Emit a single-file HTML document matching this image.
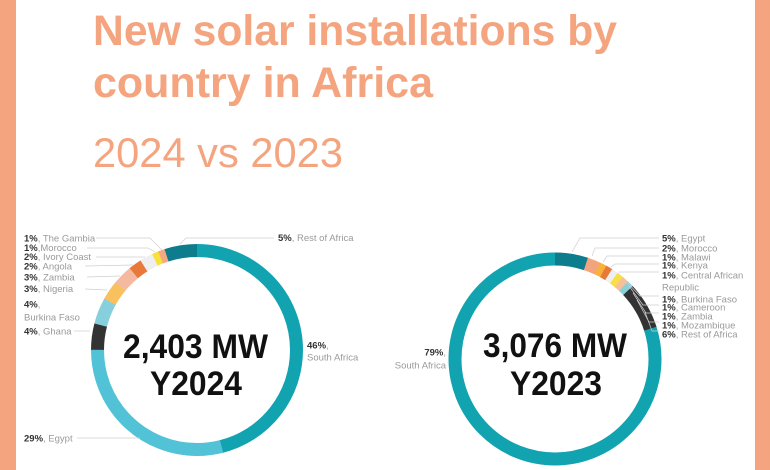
<!DOCTYPE html>
<html>
<head>
<meta charset="utf-8">
<style>
  html,body{margin:0;padding:0;background:#fff;}
  svg{display:block;}
  .t{font-family:"Liberation Sans",Arial,sans-serif;}
  .lbl{font-family:"Liberation Sans",Arial,sans-serif;font-size:9.5px;fill:#9a9a9a;}
  .pc{fill:#333;font-weight:bold;}
  .ld{stroke:#cfcfcf;stroke-width:0.7;fill:none;}
</style>
</head>
<body>
<svg width="770" height="470" viewBox="0 0 770 470" xmlns="http://www.w3.org/2000/svg">
  <rect x="0" y="0" width="770" height="470" fill="#fff"/>
  <!-- side bars -->
  <rect x="0" y="0" width="16" height="470" fill="#f4a47f"/>
  <rect x="755" y="0" width="15" height="470" fill="#f4a47f"/>

  <!-- title -->
  <text class="t" x="93" y="45" font-size="43" font-weight="bold" fill="#f4a57f" textLength="524" lengthAdjust="spacingAndGlyphs">New solar installations by</text>
  <text class="t" x="93" y="97" font-size="43" font-weight="bold" fill="#f4a57f" textLength="340" lengthAdjust="spacingAndGlyphs">country in Africa</text>
  <text class="t" x="93" y="167" font-size="42" fill="#f4a57f" textLength="250" lengthAdjust="spacingAndGlyphs">2024 vs 2023</text>

  <!-- LEFT DONUT (2024) center 197,350 r 99.5 -->
  <g transform="rotate(-90 197 350)" fill="none" stroke-width="13">
    <circle cx="197" cy="350" r="99.5" stroke="#12a3b1" stroke-dasharray="288.1 625.18" stroke-dashoffset="0"/>
    <circle cx="197" cy="350" r="99.5" stroke="#52c3d6" stroke-dasharray="181.8 625.18" stroke-dashoffset="-287.58"/>
    <circle cx="197" cy="350" r="99.5" stroke="#333333" stroke-dasharray="25.5 625.18" stroke-dashoffset="-468.89"/>
    <circle cx="197" cy="350" r="99.5" stroke="#86cfdc" stroke-dasharray="25.5 625.18" stroke-dashoffset="-493.89"/>
    <circle cx="197" cy="350" r="99.5" stroke="#f8c15e" stroke-dasharray="19.2 625.18" stroke-dashoffset="-518.90"/>
    <circle cx="197" cy="350" r="99.5" stroke="#f5b9a2" stroke-dasharray="19.2 625.18" stroke-dashoffset="-537.65"/>
    <circle cx="197" cy="350" r="99.5" stroke="#e8793a" stroke-dasharray="13 625.18" stroke-dashoffset="-556.41"/>
    <circle cx="197" cy="350" r="99.5" stroke="#efefef" stroke-dasharray="13 625.18" stroke-dashoffset="-568.91"/>
    <circle cx="197" cy="350" r="99.5" stroke="#f7e23c" stroke-dasharray="6.7 625.18" stroke-dashoffset="-581.42"/>
    <circle cx="197" cy="350" r="99.5" stroke="#f5a882" stroke-dasharray="6.7 625.18" stroke-dashoffset="-587.67"/>
    <circle cx="197" cy="350" r="99.5" stroke="#0d7c8c" stroke-dasharray="31.3 625.18" stroke-dashoffset="-593.92"/>
  </g>

  <text class="t" x="195.5" y="358" font-size="34" font-weight="bold" fill="#111" text-anchor="middle" textLength="145" lengthAdjust="spacingAndGlyphs">2,403 MW</text>
  <text class="t" x="196" y="395" font-size="34" font-weight="bold" fill="#111" text-anchor="middle" textLength="92" lengthAdjust="spacingAndGlyphs">Y2024</text>

  <!-- left leader lines -->
  <polyline class="ld" points="96,238 150,238 162,250"/>
  <polyline class="ld" points="87,248 148,248 155,252"/>
  <polyline class="ld" points="96,257 145,257"/>
  <polyline class="ld" points="85,266 133,265"/>
  <polyline class="ld" points="87,277 120,276"/>
  <polyline class="ld" points="85,289 107,290"/>
  <polyline class="ld" points="74,331 90,331"/>
  <polyline class="ld" points="77,438 140,438"/>
  <polyline class="ld" points="180,244 186,238 274,238"/>

  <!-- left labels -->
  <text class="lbl" x="24" y="241.5"><tspan class="pc">1%</tspan>, The Gambia</text>
  <text class="lbl" x="24" y="251"><tspan class="pc">1%</tspan>,Morocco</text>
  <text class="lbl" x="24" y="260"><tspan class="pc">2%</tspan>, Ivory Coast</text>
  <text class="lbl" x="24" y="269.5"><tspan class="pc">2%</tspan>, Angola</text>
  <text class="lbl" x="24" y="280.5"><tspan class="pc">3%</tspan>, Zambia</text>
  <text class="lbl" x="24" y="292"><tspan class="pc">3%</tspan>, Nigeria</text>
  <text class="lbl" x="24" y="307.5"><tspan class="pc">4%</tspan>,</text>
  <text class="lbl" x="24" y="320.5">Burkina Faso</text>
  <text class="lbl" x="24" y="334.5"><tspan class="pc">4%</tspan>, Ghana</text>
  <text class="lbl" x="24" y="441.5"><tspan class="pc">29%</tspan>, Egypt</text>
  <text class="lbl" x="278" y="241"><tspan class="pc">5%</tspan>, Rest of Africa</text>
  <text class="lbl" x="307" y="348.5"><tspan class="pc">46%</tspan>,</text>
  <text class="lbl" x="307" y="360.5">South Africa</text>

  <!-- RIGHT DONUT (2023) center 555,359 r 100 -->
  <g transform="rotate(-90 555 359)" fill="none" stroke-width="13">
    <circle cx="555" cy="359" r="100" stroke="#12a3b1" stroke-dasharray="503.2 628.32" stroke-dashoffset="-125.66"/>
    <circle cx="555" cy="359" r="100" stroke="#0d7c8c" stroke-dasharray="31.9 628.32" stroke-dashoffset="0"/>
    <circle cx="555" cy="359" r="100" stroke="#f2a57c" stroke-dasharray="13 628.32" stroke-dashoffset="-31.42"/>
    <circle cx="555" cy="359" r="100" stroke="#f8b23a" stroke-dasharray="6.8 628.32" stroke-dashoffset="-43.98"/>
    <circle cx="555" cy="359" r="100" stroke="#e8793a" stroke-dasharray="6.8 628.32" stroke-dashoffset="-50.27"/>
    <circle cx="555" cy="359" r="100" stroke="#efefef" stroke-dasharray="6.8 628.32" stroke-dashoffset="-56.55"/>
    <circle cx="555" cy="359" r="100" stroke="#f7df45" stroke-dasharray="6.8 628.32" stroke-dashoffset="-62.83"/>
    <circle cx="555" cy="359" r="100" stroke="#f5c09a" stroke-dasharray="6.8 628.32" stroke-dashoffset="-69.12"/>
    <circle cx="555" cy="359" r="100" stroke="#8ccfdc" stroke-dasharray="6.8 628.32" stroke-dashoffset="-75.40"/>
    <circle cx="555" cy="359" r="100" stroke="#333333" stroke-dasharray="44.5 628.32" stroke-dashoffset="-81.68"/>
  </g>

  <text class="t" x="555" y="357" font-size="34" font-weight="bold" fill="#111" text-anchor="middle" textLength="144" lengthAdjust="spacingAndGlyphs">3,076 MW</text>
  <text class="t" x="556" y="395" font-size="34" font-weight="bold" fill="#111" text-anchor="middle" textLength="92" lengthAdjust="spacingAndGlyphs">Y2023</text>

  <!-- right leader lines -->
  <polyline class="ld" points="572,252 580,238 659,238"/>
  <polyline class="ld" points="592,256 595,248 659,248"/>
  <polyline class="ld" points="603,262 607,256 659,256"/>
  <polyline class="ld" points="611,267 615,264 659,264"/>
  <polyline class="ld" points="618,272 622,272 659,272"/>
  <polyline class="ld" points="624,279 640,296 659,296"/>
  <polyline class="ld" points="629,286 643,305 659,305"/>
  <polyline class="ld" points="633,293 646,313 659,313"/>
  <polyline class="ld" points="637,300 649,322 659,322"/>
  <polyline class="ld" points="645,312 652,331 659,331"/>

  <!-- right labels -->
  <text class="lbl" x="662" y="241.5"><tspan class="pc">5%</tspan>, Egypt</text>
  <text class="lbl" x="662" y="251.5"><tspan class="pc">2%</tspan>, Morocco</text>
  <text class="lbl" x="662" y="260.5"><tspan class="pc">1%</tspan>, Malawi</text>
  <text class="lbl" x="662" y="268.5"><tspan class="pc">1%</tspan>, Kenya</text>
  <text class="lbl" x="662" y="278.5"><tspan class="pc">1%</tspan>, Central African</text>
  <text class="lbl" x="662" y="290.5">Republic</text>
  <text class="lbl" x="662" y="302.5"><tspan class="pc">1%</tspan>, Burkina Faso</text>
  <text class="lbl" x="662" y="310.5"><tspan class="pc">1%</tspan>, Cameroon</text>
  <text class="lbl" x="662" y="319.5"><tspan class="pc">1%</tspan>, Zambia</text>
  <text class="lbl" x="662" y="328.5"><tspan class="pc">1%</tspan>, Mozambique</text>
  <text class="lbl" x="662" y="337.5"><tspan class="pc">6%</tspan>, Rest of Africa</text>
  <text class="lbl" x="446" y="355.5" text-anchor="end"><tspan class="pc">79%</tspan>,</text>
  <text class="lbl" x="446" y="368.5" text-anchor="end">South Africa</text>
</svg>
</body>
</html>
